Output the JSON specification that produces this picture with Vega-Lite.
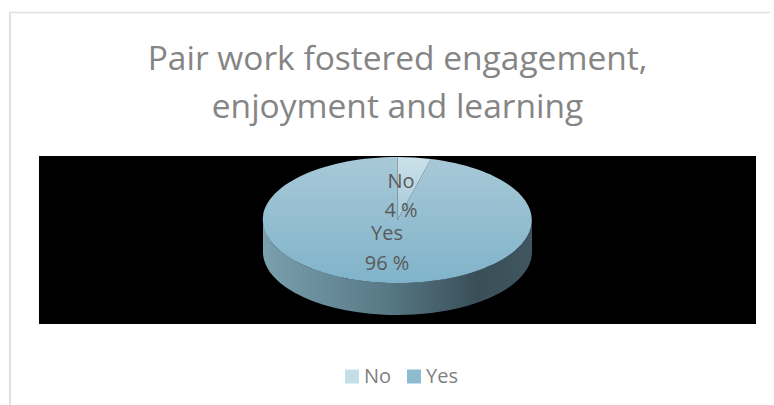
{
"$schema":"https://vega.github.io/schema/vega-lite/v6.json",
"width":717,"height":168,
"autosize":{"type":"none"},
"padding":{"left":39,"top":156,"right":18,"bottom":81},
"background":"white",
"view":{"fill":"#000000","stroke":null},
"title":{"text":["Pair work fostered engagement,","enjoyment and learning"],"font":"Open Sans","fontSize":33.5,"fontWeight":"normal","color":"#858585","lineHeight":48,"anchor":"middle","frame":"group","offset":-114},
"data":{"values":[{"category":"No","value":4,"label":"No\n4 %"},{"category":"Yes","value":96,"label":"Yes\n96 %"}]},
"layer":[
{"data":{"values":[{"edge":"frame"}]},"mark":{"type":"rule","color":"#e0e0e0","strokeWidth":2},"encoding":{"x":{"value":-29},"y":{"value":-144},"y2":{"value":249}}},
{"data":{"values":[{"edge":"frame"}]},"mark":{"type":"rule","color":"#e0e0e0","strokeWidth":1.5},"encoding":{"x":{"value":-30},"x2":{"value":731},"y":{"value":-143.5}}},
{"transform":[{"filter":"datum.category === 'Yes'"}],
 "mark":{"type":"point","filled":true,"opacity":1,"size":4,"strokeWidth":0,
  "shape":"M-134.5,-20 A134.5,63 0 0 0 134.5,-20 L134.5,12 A134.5,63 0 0 1 -134.5,12 Z",
  "fill":{"gradient":"linear","x1":0,"y1":0,"x2":1,"y2":0,"stops":[{"offset":0,"color":"#7b9fad"},{"offset":0.45,"color":"#587a87"},{"offset":0.8,"color":"#3a4e57"},{"offset":1,"color":"#3f5660"}]}},
 "encoding":{}},
{"mark":{"type":"point","filled":true,"opacity":1,"size":0,"strokeWidth":0},
 "encoding":{
  "color":{"field":"category","type":"nominal","scale":{"domain":["No","Yes"],"range":["#c5dfe8","#8fbbce"]},
   "legend":{"orient":"none","legendX":303,"legendY":210.5,"direction":"horizontal","columns":2,"title":null,"symbolType":"square","symbolSize":196,"symbolStrokeWidth":0,"labelFont":"Open Sans","labelFontSize":20,"labelColor":"#808080","labelOffset":2,"columnPadding":12,"padding":0,
    "encode":{"symbols":{"update":{"fill":{"signal":"{gradient:'linear',x1:0,y1:0,x2:0,y2:1,stops:datum.value==='No'?[{offset:0,color:'#cfe4ec'},{offset:1,color:'#bcdae4'}]:[{offset:0,color:'#a0c5d5'},{offset:1,color:'#7fb3ca'}]}"}}}}}}
 }},
{"transform":[{"filter":"datum.category === 'Yes'"}],
 "mark":{"type":"point","filled":true,"opacity":1,"size":4,"strokeWidth":0,"shape":"M0,-20 L33.4,-81 A134.5,63 0 1 1 0,-83 Z",
  "fill":{"gradient":"linear","x1":0,"y1":0,"x2":0,"y2":1,"stops":[{"offset":0,"color":"#a8c9d7"},{"offset":1,"color":"#80b3ca"}]}},"encoding":{}},
{"transform":[{"filter":"datum.category === 'No'"}],
 "mark":{"type":"point","filled":true,"opacity":1,"size":4,"strokeWidth":0,"shape":"M0,-20 L0,-83 A134.5,63 0 0 1 33.4,-81 Z",
  "fill":{"gradient":"linear","x1":0,"y1":0,"x2":0,"y2":1,"stops":[{"offset":0,"color":"#cde2ea"},{"offset":1,"color":"#a2c7d6"}]}},"encoding":{}},
{"transform":[{"filter":"datum.category === 'No'"}],"mark":{"type":"text","font":"Open Sans","fontSize":20,"color":"#595959","lineBreak":"\n","lineHeight":29.5,"baseline":"alphabetic","dx":3.5,"dy":-52.5},"encoding":{"text":{"field":"label"}}},
{"transform":[{"filter":"datum.category === 'Yes'"}],"mark":{"type":"text","font":"Open Sans","fontSize":20,"color":"#595959","lineBreak":"\n","lineHeight":29.5,"baseline":"alphabetic","dx":-10.5,"dy":0},"encoding":{"text":{"field":"label"}}}
]
}
